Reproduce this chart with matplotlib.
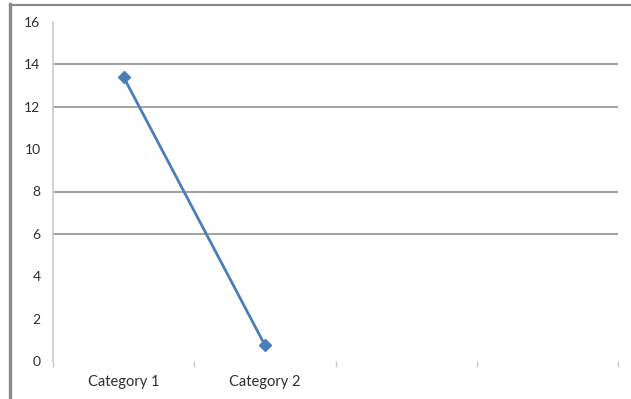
import matplotlib
matplotlib.use("Agg")
import matplotlib.pyplot as plt
from matplotlib.lines import Line2D
import numpy as np

# Chart data
categories = ["Category 1", "Category 2", "", ""]
series_values = [13.4, 0.75]
y_ticks = [0, 2, 4, 6, 8, 10, 12, 14, 16]
grid_levels = [6, 8, 12, 14]

W, H = 631, 399
fig = plt.figure(figsize=(W / 100, H / 100), dpi=100)
fig.patch.set_facecolor("white")

ax = fig.add_axes([53 / W, 1 - 361 / H, (618 - 53) / W, (361 - 22) / H])
ax.set_facecolor("white")

n = len(categories)
ax.set_xlim(-0.5, n - 0.5)
ax.set_ylim(0, 16)

# Horizontal guide lines
for g in grid_levels:
    ax.axhline(g, color="#9a9a9a", lw=1.3, zorder=1)

# Series line with diamond markers
xs = np.arange(len(series_values))
ax.plot(xs, series_values, color="#4a7ebb", lw=2.0, marker="D",
        markersize=6.5, markerfacecolor="#4a7ebb", markeredgecolor="#4a7ebb",
        zorder=3, clip_on=False)

# Axes styling
for side in ["top", "right", "bottom"]:
    ax.spines[side].set_visible(False)
ax.spines["left"].set_color("#c8c8c8")
ax.spines["left"].set_linewidth(1.2)

ax.set_yticks(y_ticks)
ax.set_yticklabels([str(v) for v in y_ticks])
ax.tick_params(axis="y", length=0, pad=9, labelsize=10, labelcolor="#2e2e2e")

# Category boundary ticks, labels centred between them
ax.set_xticks(np.arange(-0.5, n, 1.0))
ax.set_xticklabels([])
ax.tick_params(axis="x", which="major", direction="out", length=4,
               width=1.0, color="#c8c8c8")
ax.set_xticks(np.arange(n), minor=True)
ax.set_xticklabels(categories, minor=True)
ax.tick_params(axis="x", which="minor", length=0, pad=10, labelsize=10.5,
               labelcolor="#2e2e2e")

for lbl in ax.get_xticklabels(minor=True) + ax.get_yticklabels():
    lbl.set_fontfamily("Lato")

# Frame edges of the chart container
fig.add_artist(Line2D([9.5 / W, 9.5 / W], [0, 1 - 4 / H], color="#8a8a8a",
                      lw=2.4, transform=fig.transFigure))
fig.add_artist(Line2D([9.5 / W, 1], [1 - 4.5 / H, 1 - 4.5 / H], color="#8a8a8a",
                      lw=1.6, transform=fig.transFigure))

fig.savefig("out.png", dpi=100, facecolor="white")
